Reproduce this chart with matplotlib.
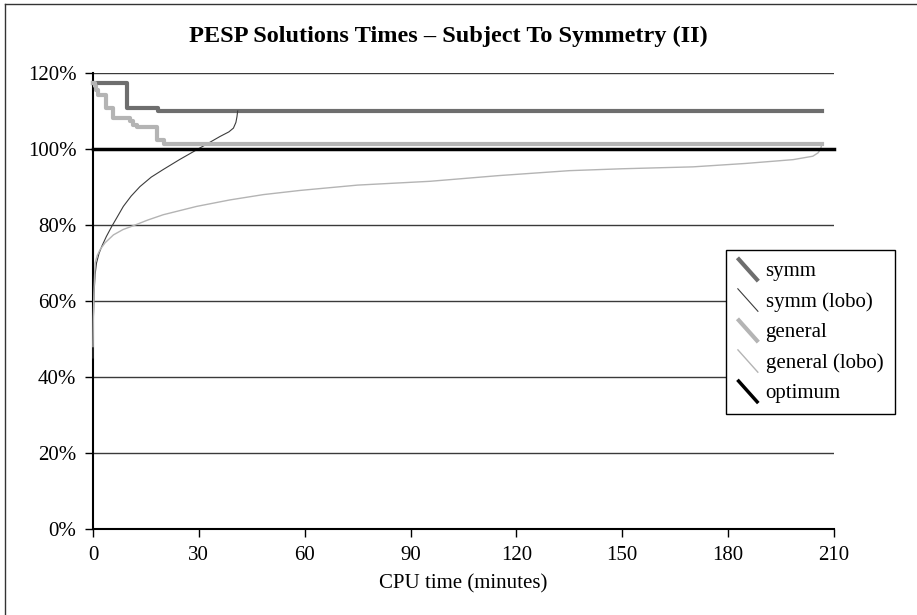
import numpy as np
import matplotlib.pyplot as plt
from matplotlib.lines import Line2D
from matplotlib.legend_handler import HandlerBase

plt.rcParams['font.family'] = ['Liberation Serif', 'DejaVu Serif']

# step series (minutes, percent of optimum)
symm_t = [0, 9.5, 18.5, 206.5]
symm_v = [117.4, 110.9, 110.1, 110.1]

general_t = [0, 0.6, 0.9, 1.3, 3.6, 5.6, 10.5, 11.4, 12.4, 18.2, 20.2, 206.5]
general_v = [117.5, 116.5, 115.5, 114.2, 110.8, 108.2, 107.3, 106.4, 105.9, 102.4, 101.3, 101.3]

# lower bound curves
symm_lobo_t = [0.0, 0.1, 0.3, 0.6, 1.0, 1.7, 2.5, 3.8, 5.3, 6.8, 8.6, 10.8, 13.3, 16.5,
               19.9, 24.5, 29.4, 33.0, 36.0, 38.5, 39.8, 40.5, 40.8, 41.0]
symm_lobo_v = [45, 55, 62, 67, 70, 72.5, 74.4, 77, 79.6, 82, 84.9, 87.6, 90.1, 92.6,
               94.6, 97.2, 99.8, 101.7, 103.3, 104.5, 105.5, 107, 108.5, 110]

general_lobo_t = [0.0, 0.1, 0.3, 0.6, 1.2, 2.0, 3.4, 5.8, 8.5, 11.4, 15.5, 19.9, 29.4,
                  38.8, 48.3, 58.7, 75.0, 95.5, 115.0, 135.0, 150.0, 170.0, 185.0,
                  198.4, 204.0, 205.5, 206.2, 206.5]
general_lobo_v = [48, 56, 63, 70, 72, 73.5, 75.3, 77.4, 78.8, 79.8, 81.3, 82.7, 84.9,
                  86.6, 88.0, 89.1, 90.5, 91.5, 93.0, 94.3, 94.8, 95.3, 96.2,
                  97.2, 98.1, 99.0, 100.0, 101.0]

optimum_t = [0, 210]
optimum_v = [100, 100]

x_ticks = [0, 30, 60, 90, 120, 150, 180, 210]
y_ticks = [0, 20, 40, 60, 80, 100, 120]


class DiagHandler(HandlerBase):
    # excel style legend key: short diagonal stroke
    def create_artists(self, legend, orig_handle, xdescent, ydescent,
                       width, height, fontsize, trans):
        x0 = -xdescent
        y0 = -ydescent
        ln = Line2D([x0, x0 + width], [y0 + height * 1.25, y0 - height * 0.35],
                    color=orig_handle.get_color(), lw=orig_handle.get_linewidth(),
                    solid_capstyle='butt', transform=trans)
        return [ln]


fig = plt.figure(figsize=(9.17, 6.15), dpi=100)
ax = fig.add_axes([93 / 917, 1 - 529 / 615, (834 - 93) / 917, (529 - 73) / 615])

for y in y_ticks[1:]:
    ax.axhline(y, color='#3a3a3a', lw=1.0, zorder=1)

l1, = ax.plot(symm_t, symm_v, drawstyle='steps-post', color='#6e6e6e', lw=3, label='symm', zorder=3)
l2, = ax.plot(symm_lobo_t, symm_lobo_v, color='#3c3c3c', lw=0.8, label='symm (lobo)', zorder=3)
l3, = ax.plot(general_t, general_v, drawstyle='steps-post', color='#b4b4b4', lw=3, label='general', zorder=3)
l4, = ax.plot(general_lobo_t, general_lobo_v, color='#b4b4b4', lw=1.0, label='general (lobo)', zorder=3)
l5, = ax.plot(optimum_t, optimum_v, color='black', lw=2.5, label='optimum', zorder=4)

ax.set_xlim(0, 210)
ax.set_ylim(0, 120)
ax.set_xticks(x_ticks)
ax.set_yticks(y_ticks)
ax.set_yticklabels([f'{v}%' for v in y_ticks])
ax.tick_params(axis='both', direction='out', length=6, width=1, labelsize=15, color='black')
ax.tick_params(axis='y', pad=6)
ax.tick_params(axis='x', pad=6)
ax.spines['top'].set_visible(False)
ax.spines['right'].set_visible(False)
ax.spines['left'].set_linewidth(1.5)
ax.spines['bottom'].set_linewidth(1.5)
for l in (l1, l2, l3, l4, l5):
    l.set_clip_on(False)

fig.text(448 / 917, 1 - 36 / 615, 'PESP Solutions Times \u2013 Subject To Symmetry (II)',
         ha='center', va='center', fontsize=17.5, fontweight='bold')
fig.text(463 / 917, 1 - 584 / 615, 'CPU time (minutes)', ha='center', va='center', fontsize=15)

leg = fig.legend(handles=[l1, l2, l3, l4, l5], loc='upper left',
                 bbox_to_anchor=(726 / 917, 1 - 250 / 615), fontsize=15,
                 handler_map={Line2D: DiagHandler()}, handlelength=1.0, handletextpad=0.35,
                 labelspacing=0.52, borderpad=0.55, borderaxespad=0,
                 fancybox=False, framealpha=1, edgecolor='black')
leg.get_frame().set_linewidth(1.0)

# chart area border (left and top visible)
fig.add_artist(Line2D([5 / 917, 5 / 917], [0, 1 - 4 / 615], color='#333333', lw=1, transform=fig.transFigure))
fig.add_artist(Line2D([5 / 917, 1], [1 - 4 / 615, 1 - 4 / 615], color='#333333', lw=1, transform=fig.transFigure))

fig.savefig('out.png', dpi=100)
